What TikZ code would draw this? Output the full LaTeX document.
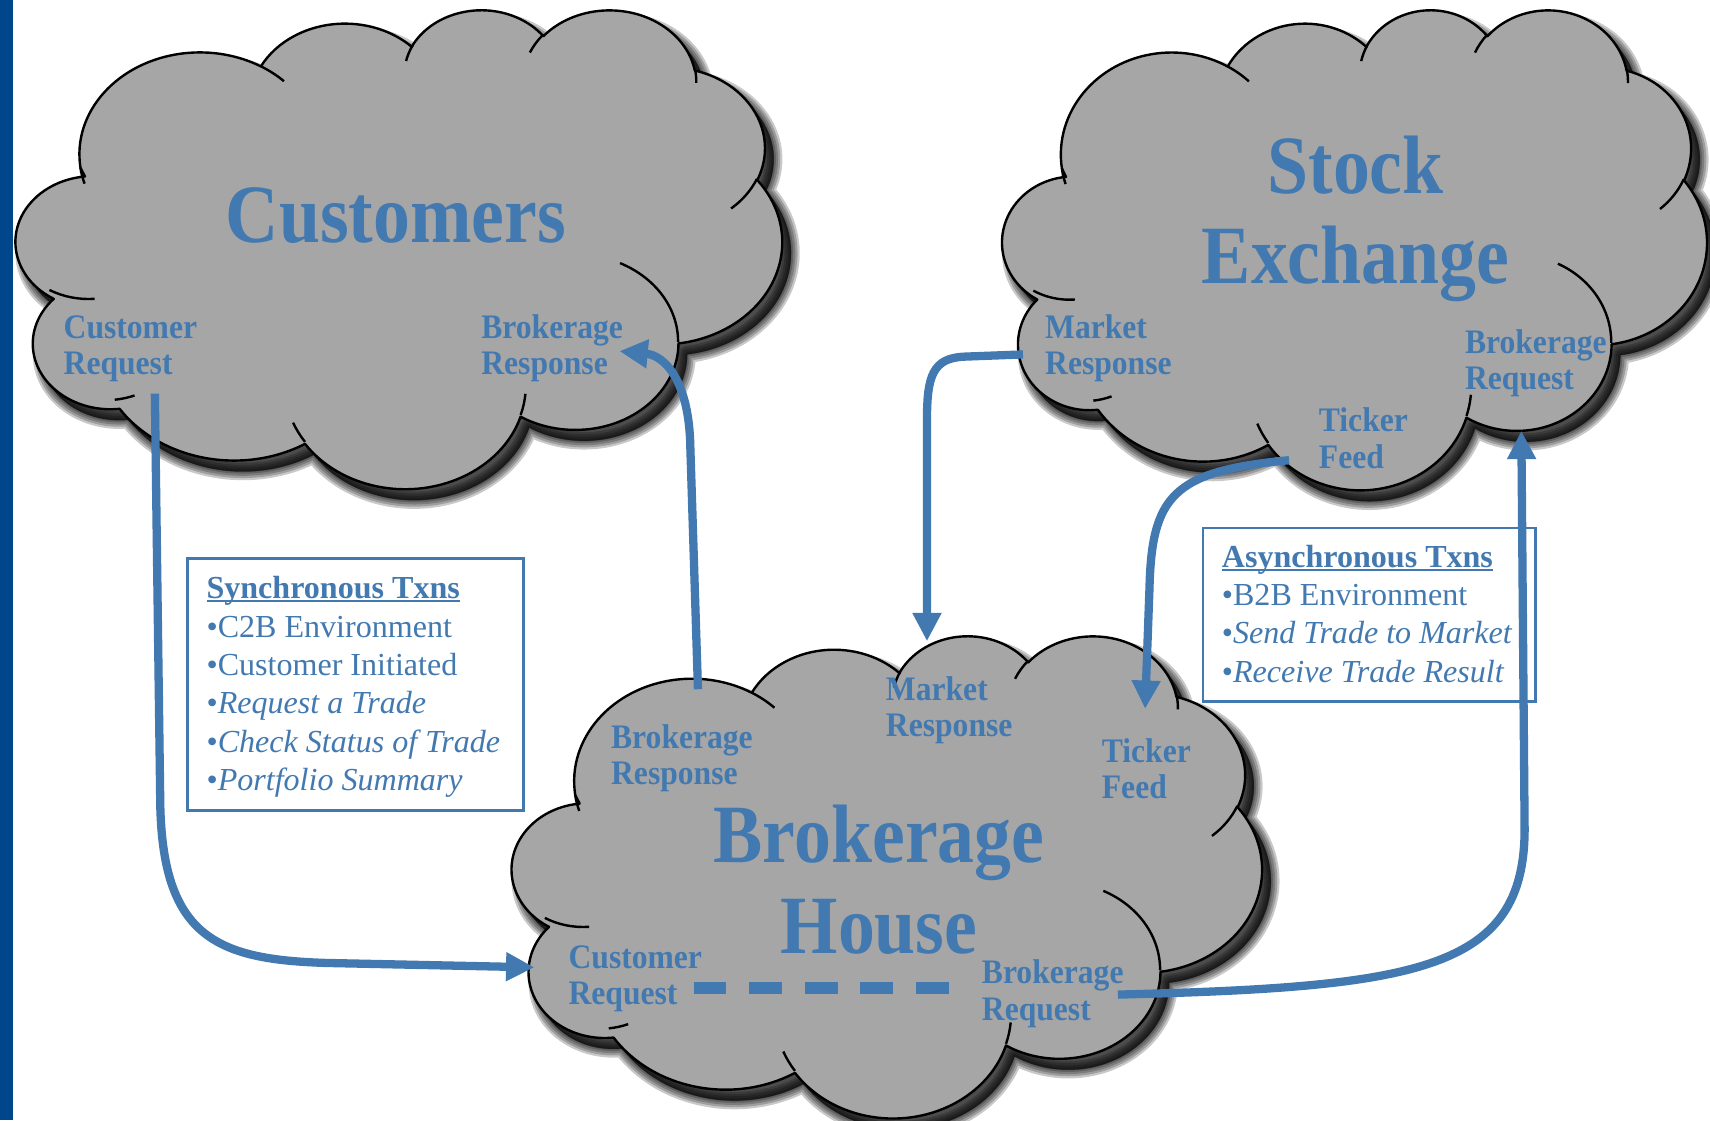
\documentclass[tikz,border=0pt]{standalone}
\usepackage{fontspec}
\setmainfont{Liberation Serif}
\newfontfamily\lblfont{Liberation Serif}[FakeStretch=0.92]
\newfontfamily\ttlfont{Liberation Serif}[FakeStretch=0.89]
\usetikzlibrary{arrows.meta}
\definecolor{txtblue}{HTML}{4279B0}
\definecolor{cloudgray}{HTML}{A6A6A6}
\definecolor{barblue}{HTML}{00468A}

% convert DrawingML visual arc angles into parametric angles
\newcommand\cldprep[4]{%
  \pgfmathsetmacro\cldtmpa{atan2((#2)*sin(#3),cos(#3))}%
  \pgfmathsetmacro\cldtmpa{\cldtmpa+360*round(((#3)-(\cldtmpa))/360)}%
  \pgfmathsetmacro\cldtmpb{atan2((#2)*sin((#3)+(#4)),cos((#3)+(#4)))}%
  \pgfmathsetmacro\cldtmpb{\cldtmpb+360*round(((#3)+(#4)-(\cldtmpb))/360)}%
  \expandafter\xdef\csname cldS#1\endcsname{\cldtmpa}%
  \expandafter\xdef\csname cldE#1\endcsname{\cldtmpb}%
}
\cldprep{A}{6.753/9.19}{-190.4875}{123.7805}
\cldprep{B}{5.333/7.267}{-144.1024}{89.9452}
\cldprep{C}{4.365/5.945}{-145.8079}{99.7230}
\cldprep{D}{4.857/6.595}{-130.9861}{117.2417}
\cldprep{E}{5.333/7.273}{-78.7089}{109.0269}
\cldprep{F}{6.775/9.22}{-46.2673}{130.2690}
\cldprep{G}{5.785/7.867}{0.6250}{114.0333}
\cldprep{H}{6.752/9.215}{22.4516}{115.1726}
\cldprep{I}{7.72/10.543}{66.2426}{71.2631}
\cldprep{J}{4.36/5.918}{-274.9421}{146.7356}
\cldprep{K}{4.345/5.945}{-246.8285}{152.5189}
\cldprep{a}{4.345/5.945}{86.742}{26.4295}
\cldprep{b}{4.36/5.918}{73.6105}{11.4475}
\cldprep{c}{6.752/9.215}{137.6242}{14.0811}
\cldprep{d}{6.752/9.215}{6.4533}{15.9984}
\cldprep{e}{5.785/7.867}{-70.2924}{70.9174}
\cldprep{f}{5.333/7.273}{30.318}{27.7515}
\cldprep{g}{4.857/6.595}{-13.7443}{14.8589}
\cldprep{h}{4.857/6.595}{-149.1815}{18.1954}
\cldprep{i}{4.365/5.945}{-163.4943}{17.6864}
\cldprep{j}{6.753/9.19}{-66.707}{12.3194}
\cldprep{k}{6.753/9.19}{157.6544}{11.8539}

\newcommand\cloudmain{(3.9,14.37)
 arc[x radius=6.753,y radius=9.19,start angle=\cldSA,end angle=\cldEA]
 arc[x radius=5.333,y radius=7.267,start angle=\cldSB,end angle=\cldEB]
 arc[x radius=4.365,y radius=5.945,start angle=\cldSC,end angle=\cldEC]
 arc[x radius=4.857,y radius=6.595,start angle=\cldSD,end angle=\cldED]
 arc[x radius=5.333,y radius=7.273,start angle=\cldSE,end angle=\cldEE]
 arc[x radius=6.775,y radius=9.22,start angle=\cldSF,end angle=\cldEF]
 arc[x radius=5.785,y radius=7.867,start angle=\cldSG,end angle=\cldEG]
 arc[x radius=6.752,y radius=9.215,start angle=\cldSH,end angle=\cldEH]
 arc[x radius=7.72,y radius=10.543,start angle=\cldSI,end angle=\cldEI]
 arc[x radius=4.36,y radius=5.918,start angle=\cldSJ,end angle=\cldEJ]
 arc[x radius=4.345,y radius=5.945,start angle=\cldSK,end angle=\cldEK] -- cycle}
\newcommand\cloudinner{
 (4.693,26.177) arc[x radius=4.345,y radius=5.945,start angle=\cldSa,end angle=\cldEa]
 (6.928,34.899) arc[x radius=4.36,y radius=5.918,start angle=\cldSb,end angle=\cldEb]
 (16.478,39.09) arc[x radius=6.752,y radius=9.215,start angle=\cldSc,end angle=\cldEc]
 (28.827,34.751) arc[x radius=6.752,y radius=9.215,start angle=\cldSd,end angle=\cldEd]
 (34.129,22.954) arc[x radius=5.785,y radius=7.867,start angle=\cldSe,end angle=\cldEe]
 (41.798,15.354) arc[x radius=5.333,y radius=7.273,start angle=\cldSf,end angle=\cldEf]
 (38.324,5.426) arc[x radius=4.857,y radius=6.595,start angle=\cldSg,end angle=\cldEg]
 (29.078,3.952) arc[x radius=4.857,y radius=6.595,start angle=\cldSh,end angle=\cldEh]
 (22.141,4.72) arc[x radius=4.365,y radius=5.945,start angle=\cldSi,end angle=\cldEi]
 (14.0,5.192) arc[x radius=6.753,y radius=9.19,start angle=\cldSj,end angle=\cldEj]
 (4.127,15.789) arc[x radius=6.753,y radius=9.19,start angle=\cldSk,end angle=\cldEk]}

% #1 x0, #2 y0 (px), #3 x unit, #4 y unit (pt per 1000 shape units)
\newcommand\drawcloud[4]{%
  \begin{scope}[shift={(#1+8,#2+10)},x=#3pt,y=-#4pt]
    \foreach \lw in {8,6,4,2,0.5}{\filldraw[black,opacity=0.21,line width=\lw pt,line join=round] \cloudmain;}
  \end{scope}
  \begin{scope}[shift={(#1,#2)},x=#3pt,y=-#4pt]
    \filldraw[cloudbody] \cloudmain;
    \draw[cloudline] \cloudinner;
  \end{scope}}

\newcommand\twol[2]{\vtop{\hbox{#1}\hbox{#2}}}
\newcommand\twoc[2]{\vtop{\halign{\hfil##\hfil\cr#1\cr#2\cr}}}
\newcommand\myul[1]{\setbox0=\hbox{#1}\rlap{\rule[-1.6pt]{\wd0}{0.9pt}}\box0}

\begin{document}
\begin{tikzpicture}[x=0.5pt,y=-0.5pt,
  cloudbody/.style={fill=cloudgray,draw=black,line width=1.1pt,line join=round},
  cloudline/.style={draw=black,line width=1.1pt},
  lbl/.style={text=txtblue,font=\lblfont\bfseries\fontsize{15.75pt}{16.75pt}\selectfont,inner sep=0pt,anchor=base west},
  ttl/.style={text=txtblue,font=\ttlfont\bfseries\fontsize{38pt}{41.5pt}\selectfont,inner sep=0pt,anchor=base},
  txbox/.style={draw=txtblue,line width=1.1pt,fill=white,anchor=north west,inner sep=0pt},
  boxtext/.style={text=txtblue,font=\fontsize{14.7pt}{17.6pt}\selectfont,inner sep=0pt,anchor=base west},
  conn/.style={draw=txtblue,line width=3.8pt,-{Triangle[length=13pt,width=12.5pt]}},
  dashconn/.style={draw=txtblue,line width=5.5pt,dash pattern=on 15pt off 10.5pt}]

\useasboundingbox (0,0) rectangle (1568,1027);
\fill[white] (0,0) rectangle (1568,1027);
\fill[barblue] (0,0) rectangle (12,1027);

% ---- Customers cloud
\drawcloud{10}{8}{8.183}{5.081}
\node[ttl] (custtitle) at (363,222) {Customers};
\node[lbl] (c-creq) at (58,310) {\twol{Customer}{Request}};
\node[lbl] (c-bresp) at (441,310) {\twol{Brokerage}{Response}};

% ---- Stock Exchange cloud
\drawcloud{915}{8}{7.523}{5.093}
\node[ttl] (stocktitle) at (1243,177) {\twoc{Stock}{Exchange}};
\node[lbl] (s-mresp) at (958,310) {\twol{Market}{Response}};
\node[lbl] (s-breq) at (1343,324) {\twol{Brokerage}{Request}};
\node[lbl] (s-tick) at (1209,396) {\twol{Ticker}{Feed}};

% ---- Brokerage House cloud
\drawcloud{465}{582}{8.009}{5.116}
\node[ttl] (brktitle) at (806,791) {\twoc{Brokerage}{House}};
\node[lbl] (b-bresp) at (560,686) {\twol{Brokerage}{Response}};
\node[lbl] (b-mresp) at (812,642) {\twol{Market}{Response}};
\node[lbl] (b-tick) at (1010,699) {\twol{Ticker}{Feed}};
\node[lbl] (b-creq) at (521,888) {\twol{Customer}{Request}};
\node[lbl] (b-breq) at (900,902) {\twol{Brokerage}{Request}};

% ---- text boxes
\node[txbox,minimum width=154pt,minimum height=115.5pt] (syncbox) at (171,511) {};
\node[boxtext] (synctext) at (189,549) {\vtop{%
  \hbox{\bfseries\myul{Synchronous Txns}}%
  \hbox{•C2B Environment}%
  \hbox{•Customer Initiated}%
  \hbox{•\textit{Request a Trade}}%
  \hbox{•\textit{Check Status of Trade}}%
  \hbox{•\textit{Portfolio Summary}}}};
\node[txbox,minimum width=152.5pt,minimum height=79.5pt] (asyncbox) at (1102,483) {};
\node[boxtext] (asynctext) at (1120,520) {\vtop{%
  \hbox{\bfseries\myul{Asynchronous Txns}}%
  \hbox{•B2B Environment}%
  \hbox{•\textit{Send Trade to Market}}%
  \hbox{•\textit{Receive Trade Result}}}};

% ---- connector end points
\coordinate (p1s) at (142,361);  \coordinate (p1e) at (490,887);
\coordinate (p2s) at (640,632);  \coordinate (p2e) at (568,322);
\coordinate (p3s) at (938,325);  \coordinate (p3e) at (850,588);
\coordinate (p4s) at (1182,422); \coordinate (p4e) at (1050,650);
\coordinate (p5s) at (1025,912); \coordinate (p5e) at (1395,395);
\coordinate (d1) at (636,906);   \coordinate (d2) at (870,906);

\draw[conn] (p1s) -- (147,740) .. controls (150,860) and (200,880) .. (300,883) -- (p1e);
\draw[conn] (p2s) -- (633,410) .. controls (632,350) and (610,326) .. (p2e);
\draw[conn] (p3s) -- (885,327) .. controls (855,328) and (850,345) .. (850,385) -- (p3e);
\draw[conn] (p4s) .. controls (1075,432) and (1056,455) .. (1054,540) -- (p4e);
\draw[conn] (p5s) .. controls (1300,905) and (1398,890) .. (1398,760) -- (p5e);
\draw[dashconn] (d1) -- (d2);
\end{tikzpicture}
\end{document}
